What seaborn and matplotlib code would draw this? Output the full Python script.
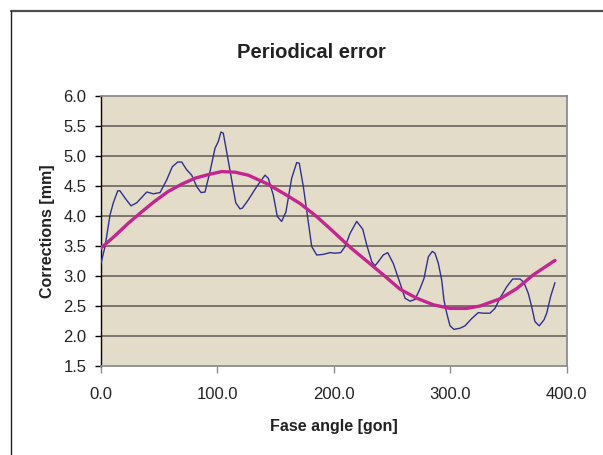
import numpy as np
import pandas as pd
import matplotlib
matplotlib.use("Agg")
import matplotlib.pyplot as plt
from matplotlib.lines import Line2D
import seaborn as sns

angle_meas = [0, 3.9, 8.2, 11.0, 14.8, 16.7, 21.0, 26.2, 31.1, 39.7, 45.3, 51.1,
              56.8, 61.6, 66.3, 69.7, 74.0, 78.3, 82.6, 86.3, 89.7, 94.0, 98.3,
              101.1, 103.4, 105.4, 108.3, 112.6, 116.1, 119.7, 121.7, 126.9,
              134.1, 141.2, 144.0, 148.3, 151.8, 155.5, 159.2, 164.1, 168.4,
              170.6, 174.1, 177.5, 181.3, 185.6, 191.2, 197.0, 201.3, 206.2,
              209.9, 214.2, 219.9, 225.1, 228.5, 232.8, 235.6, 238.5, 242.7,
              246.5, 251.3, 257.1, 261.4, 265.7, 270.0, 274.3, 277.7, 281.4,
              284.8, 287.1, 290.0, 292.9, 294.8, 297.2, 300.0, 303.4, 308.6,
              312.9, 318.6, 324.3, 328.6, 334.3, 338.6, 342.9, 348.7, 353.8,
              360.1, 363.5, 367.2, 370.1, 372.9, 376.6, 380.7, 383.0, 386.4,
              390.1]
corr_meas = [3.18, 3.49, 4.02, 4.22, 4.42, 4.42, 4.30, 4.17, 4.22, 4.40, 4.37, 4.39,
             4.60, 4.82, 4.90, 4.90, 4.77, 4.68, 4.49, 4.39, 4.40, 4.74, 5.13,
             5.24, 5.40, 5.38, 5.07, 4.60, 4.22, 4.12, 4.13, 4.27,
             4.49, 4.68, 4.63, 4.35, 3.99, 3.91, 4.07, 4.63, 4.89,
             4.88, 4.49, 4.02, 3.49, 3.35, 3.36, 3.39, 3.38, 3.39,
             3.49, 3.71, 3.91, 3.78, 3.52, 3.24, 3.17, 3.24, 3.35,
             3.39, 3.21, 2.88, 2.63, 2.58, 2.61, 2.79, 2.96, 3.32,
             3.41, 3.38, 3.21, 2.93, 2.60, 2.38, 2.17, 2.11, 2.13,
             2.17, 2.29, 2.39, 2.38, 2.38, 2.46, 2.63, 2.82, 2.95,
             2.95, 2.89, 2.71, 2.49, 2.24, 2.17, 2.27, 2.38, 2.66,
             2.89]

# Fitted periodic curve (magenta)
angle_fit = [0, 12.4, 23.9, 35.4, 46.8, 58.2, 69.7, 81.1, 92.5, 104.0, 115.5,
             126.9, 142.7, 156.9, 171.2, 185.6, 199.8, 214.2, 228.5, 242.7,
             257.1, 271.4, 285.7, 300.0, 314.3, 325.8, 342.9, 357.3, 371.5, 390.1]
corr_fit = [3.46, 3.67, 3.88, 4.07, 4.25, 4.41, 4.53, 4.63, 4.69, 4.74, 4.73,
            4.68, 4.54, 4.38, 4.21, 3.99, 3.74, 3.48, 3.25, 3.02,
            2.78, 2.63, 2.52, 2.46, 2.46, 2.50, 2.62, 2.79, 3.02, 3.26]

x_ticks = [0, 100, 200, 300, 400]
y_ticks = [1.5, 2.0, 2.5, 3.0, 3.5, 4.0, 4.5, 5.0, 5.5, 6.0]

sns.set_style("white")
plt.rcParams['font.family'] = ['Liberation Sans', 'DejaVu Sans']

fig = plt.figure(figsize=(6.03, 4.55), dpi=100)
ax = fig.add_axes([100.5 / 603, 1 - 366 / 455, 466 / 603, 270 / 455])
ax.set_facecolor('#e3dcc8')

meas = pd.DataFrame({'angle': angle_meas, 'corr': corr_meas})
fit = pd.DataFrame({'angle': angle_fit, 'corr': corr_fit})

for y in y_ticks[1:-1]:
    ax.axhline(y, color='#716d66', lw=1.3, zorder=1)

sns.lineplot(data=meas, x='angle', y='corr', ax=ax, color='#2e3192',
             lw=1.0, sort=False, zorder=3)
sns.lineplot(data=fit, x='angle', y='corr', ax=ax, color='#c4258f',
             lw=2.4, sort=False, zorder=4)

ax.set_xlim(0, 400)
ax.set_ylim(1.5, 6.0)
ax.set_xticks(x_ticks)
ax.set_xticklabels([f"{v:.1f}" for v in x_ticks])
ax.set_yticks(y_ticks)
ax.set_yticklabels([f"{v:.1f}" for v in y_ticks])

for side in ['top', 'right', 'bottom']:
    ax.spines[side].set_color('#8c8c8c')
    ax.spines[side].set_linewidth(1.3)
ax.spines['left'].set_color('black')
ax.spines['left'].set_linewidth(1.0)

ax.tick_params(axis='y', left=True, length=4, width=1, color='black',
               pad=6, labelsize=12, labelcolor='#222222')
ax.tick_params(axis='x', bottom=True, length=5, width=1, color='#8c8c8c',
               pad=10, labelsize=12, labelcolor='#222222')

ax.set_xlabel('Fase angle [gon]', fontsize=11.5, fontweight='bold',
              labelpad=12, color='#222222')
ax.set_ylabel('Corrections [mm]', fontsize=11.5, fontweight='bold',
              labelpad=6, color='#222222')

fig.text(311 / 603, 1 - 52 / 455, 'Periodical error', ha='center',
         va='center', fontsize=14.5, fontweight='bold', color='#222222')

# chart frame (only top and left edges visible)
fig.add_artist(Line2D([11 / 603, 1.0], [1 - 11 / 455, 1 - 11 / 455],
                      color='#505050', lw=1.6, transform=fig.transFigure))
fig.add_artist(Line2D([11 / 603, 11 / 603], [0.0, 1 - 11 / 455],
                      color='#202020', lw=1.0, transform=fig.transFigure))

fig.savefig('out.png', dpi=100)
